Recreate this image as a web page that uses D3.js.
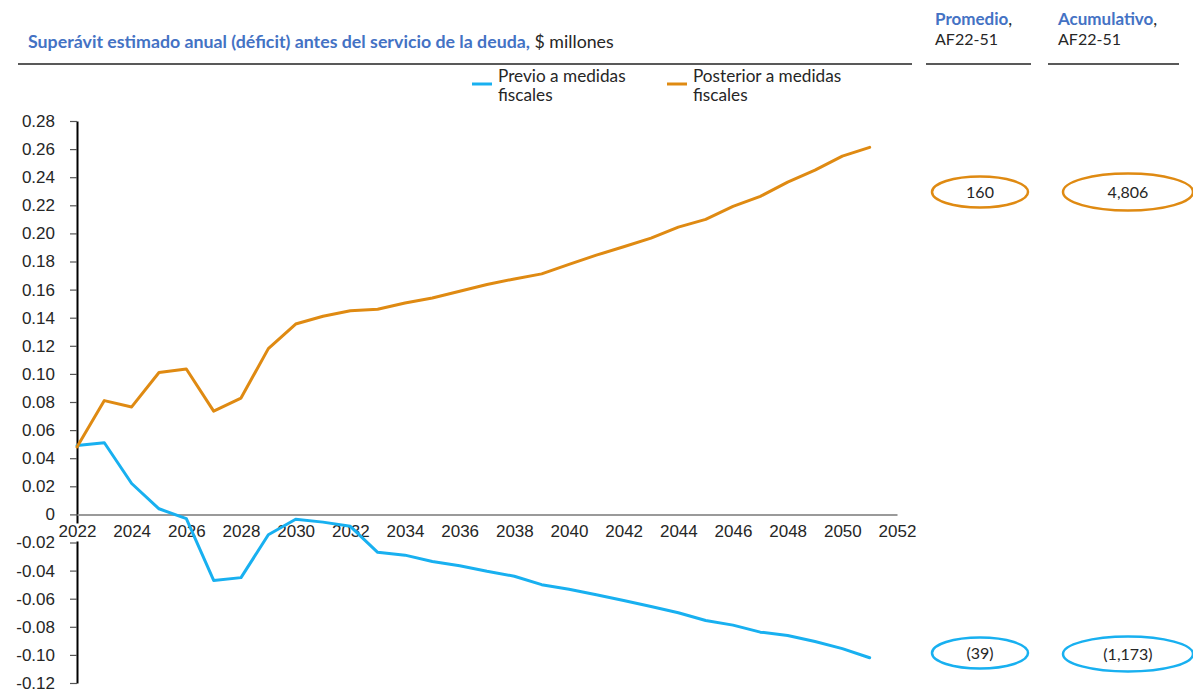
<!DOCTYPE html>
<html>
<head>
<meta charset="utf-8">
<script src="https://cdn.jsdelivr.net/npm/d3@7"></script>
<style>
  body { margin: 0; background: #fff; }
  svg { display: block; }
</style>
</head>
<body>
<svg id="chart" width="1193" height="693"></svg>
<script>
// Fiscal years on the category axis
const years = [2022, 2023, 2024, 2025, 2026, 2027, 2028, 2029, 2030, 2031,
               2032, 2033, 2034, 2035, 2036, 2037, 2038, 2039, 2040, 2041,
               2042, 2043, 2044, 2045, 2046, 2047, 2048, 2049, 2050, 2051];

// Annual surplus (deficit) before debt service, before fiscal measures
const previoValues = [0.049, 0.051, 0.022, 0.004, -0.003, -0.047, -0.045, -0.0145, -0.0035, -0.0055,
                      -0.0085, -0.027, -0.029, -0.0335, -0.0365, -0.0405, -0.044, -0.050, -0.0533, -0.0572,
                      -0.0613, -0.0655, -0.070, -0.0755, -0.0788, -0.0838, -0.0862, -0.0905, -0.0955, -0.102];

// Annual surplus (deficit) before debt service, after fiscal measures
const posteriorValues = [0.048, 0.081, 0.0765, 0.101, 0.1035, 0.0735, 0.0828, 0.118, 0.1355, 0.141,
                         0.145, 0.146, 0.1505, 0.154, 0.1588, 0.1636, 0.1676, 0.1712, 0.178, 0.1845,
                         0.1905, 0.1966, 0.2045, 0.2100, 0.2192, 0.2264, 0.2365, 0.2450, 0.2550, 0.2612];

const seriesNames = ["Previo a medidas fiscales", "Posterior a medidas fiscales"];

// Summary figures, FY22-51 (negatives shown in parentheses)
const promedioValues = [-39, 160];
const acumuladoValues = [-1173, 4806];

// Axis ticks
const xTicks = [2022, 2024, 2026, 2028, 2030, 2032, 2034, 2036, 2038, 2040, 2042, 2044, 2046, 2048, 2050, 2052];
const yTicks = [-0.12, -0.10, -0.08, -0.06, -0.04, -0.02, 0, 0.02, 0.04, 0.06, 0.08, 0.10, 0.12,
                0.14, 0.16, 0.18, 0.20, 0.22, 0.24, 0.26, 0.28];

const BLUE = "#18B0F0";
const ORANGE = "#DF8A12";
const HEAD_BLUE = "#4472C4";
const TEXT = "#262626";
const RULE = "#595959";
const CAL = "Lato, 'Open Sans', sans-serif";
const ARIAL = "'Liberation Sans', Arial, sans-serif";

const svg = d3.select("#chart");

const x = d3.scaleLinear().domain([2022, 2052]).range([77, 897]);
const y = d3.scaleLinear().domain([-0.12, 0.28]).range([683, 121]);

// Scale a text element's font size so it spans a given width
function fitWidth(sel, width) {
  const node = sel.node();
  const size = parseFloat(sel.attr("font-size"));
  const w = node.getComputedTextLength();
  sel.attr("font-size", (size * width / w).toFixed(2));
}

// ---- Header ----
const title = svg.append("text")
  .attr("x", 28).attr("y", 48)
  .attr("font-family", CAL).attr("font-size", 16);
title.append("tspan")
  .attr("font-weight", "bold").attr("fill", HEAD_BLUE)
  .text("Superávit estimado anual (déficit) antes del servicio de la deuda,");
title.append("tspan")
  .attr("fill", TEXT)
  .text(" $ millones");
fitWidth(title, 586);

const headers = [
  { x: 935, label: "Promedio" },
  { x: 1058, label: "Acumulativo" }
];
headers.forEach(h => {
  const t = svg.append("text")
    .attr("x", h.x).attr("y", 25)
    .attr("font-family", CAL).attr("font-size", 17);
  t.append("tspan").attr("font-weight", "bold").attr("fill", HEAD_BLUE).text(h.label);
  t.append("tspan").attr("fill", TEXT).text(",");
  svg.append("text")
    .attr("x", h.x).attr("y", 45)
    .attr("font-family", CAL).attr("font-size", 16)
    .attr("fill", TEXT)
    .text("AF22-51");
});

// Header rules
[[18, 912], [926, 1031], [1048, 1179]].forEach(([a, b]) => {
  svg.append("line")
    .attr("x1", a).attr("x2", b).attr("y1", 64).attr("y2", 64)
    .attr("stroke", RULE).attr("stroke-width", 2);
});

// ---- Legend ----
const legendItems = [
  { name: seriesNames[0], color: BLUE, x: 472 },
  { name: seriesNames[1], color: ORANGE, x: 667 }
];
legendItems.forEach(item => {
  svg.append("line")
    .attr("x1", item.x).attr("x2", item.x + 20)
    .attr("y1", 84).attr("y2", 84)
    .attr("stroke", item.color).attr("stroke-width", 3);
  const words = item.name.split(" ");
  const line1 = words.slice(0, -1).join(" ");
  const line2 = words[words.length - 1];
  const t = svg.append("text")
    .attr("font-family", CAL).attr("font-size", 17.2).attr("fill", TEXT);
  t.append("tspan").attr("x", item.x + 26).attr("y", 82).text(line1);
  t.append("tspan").attr("x", item.x + 26).attr("y", 101).text(line2);
});

// ---- Axes ----
const yAxis = d3.axisLeft(y)
  .tickValues(yTicks)
  .tickSize(7)
  .tickSizeOuter(0)
  .tickPadding(15)
  .tickFormat(d => Math.abs(d) < 1e-9 ? "0" : d.toFixed(2));

const gy = svg.append("g")
  .attr("transform", "translate(77,0)")
  .call(yAxis);
gy.select(".domain").attr("stroke", "#000").attr("stroke-width", 2);
gy.selectAll(".tick line").attr("stroke", "#555").attr("stroke-width", 1.2);
gy.selectAll(".tick text")
  .attr("font-family", ARIAL).attr("font-size", 17).attr("fill", TEXT);

const xAxis = d3.axisBottom(x)
  .tickValues(xTicks)
  .tickSize(0)
  .tickSizeOuter(0)
  .tickPadding(11)
  .tickFormat(d3.format("d"));

const gx = svg.append("g")
  .attr("transform", `translate(0,${y(0)})`)
  .call(xAxis);
gx.select(".domain").attr("stroke", "#9a9a9a").attr("stroke-width", 2);
gx.selectAll(".tick text")
  .attr("font-family", ARIAL).attr("font-size", 17).attr("fill", TEXT);

// White label boxes sit over the vertical axis, like the category labels do
gx.selectAll(".tick").each(function () {
  const tick = d3.select(this);
  const txt = tick.select("text");
  const bb = txt.node().getBBox();
  tick.insert("rect", "text")
    .attr("x", bb.x - 1).attr("y", bb.y + 1)
    .attr("width", bb.width + 2).attr("height", bb.height - 1)
    .attr("fill", "#fff");
});

// ---- Series ----
const line = d3.line()
  .x((d, i) => x(years[i]))
  .y(d => y(d));

[[previoValues, BLUE], [posteriorValues, ORANGE]].forEach(([vals, color]) => {
  svg.append("path")
    .datum(vals)
    .attr("d", line)
    .attr("fill", "none")
    .attr("stroke", color)
    .attr("stroke-width", 3)
    .attr("stroke-linejoin", "round")
    .attr("stroke-linecap", "round");
});

// ---- Summary ovals ----
const fmt = v => {
  const s = d3.format(",")(Math.abs(v));
  return v < 0 ? `(${s})` : s;
};

const ovals = [
  { cx: 980, cy: 192, rx: 48, ry: 15.5, value: promedioValues[1], color: ORANGE },
  { cx: 1128, cy: 192, rx: 65, ry: 18.5, value: acumuladoValues[1], color: ORANGE },
  { cx: 980, cy: 653, rx: 48, ry: 15.5, value: promedioValues[0], color: BLUE },
  { cx: 1128, cy: 654, rx: 65, ry: 17.5, value: acumuladoValues[0], color: BLUE }
];
ovals.forEach(o => {
  svg.append("ellipse")
    .attr("cx", o.cx).attr("cy", o.cy).attr("rx", o.rx).attr("ry", o.ry)
    .attr("fill", "none").attr("stroke", o.color).attr("stroke-width", 2.5);
  svg.append("text")
    .attr("x", o.cx).attr("y", o.cy + 5.5)
    .attr("text-anchor", "middle")
    .attr("font-family", CAL).attr("font-size", 16).attr("fill", TEXT)
    .text(fmt(o.value));
});
</script>
</body>
</html>
